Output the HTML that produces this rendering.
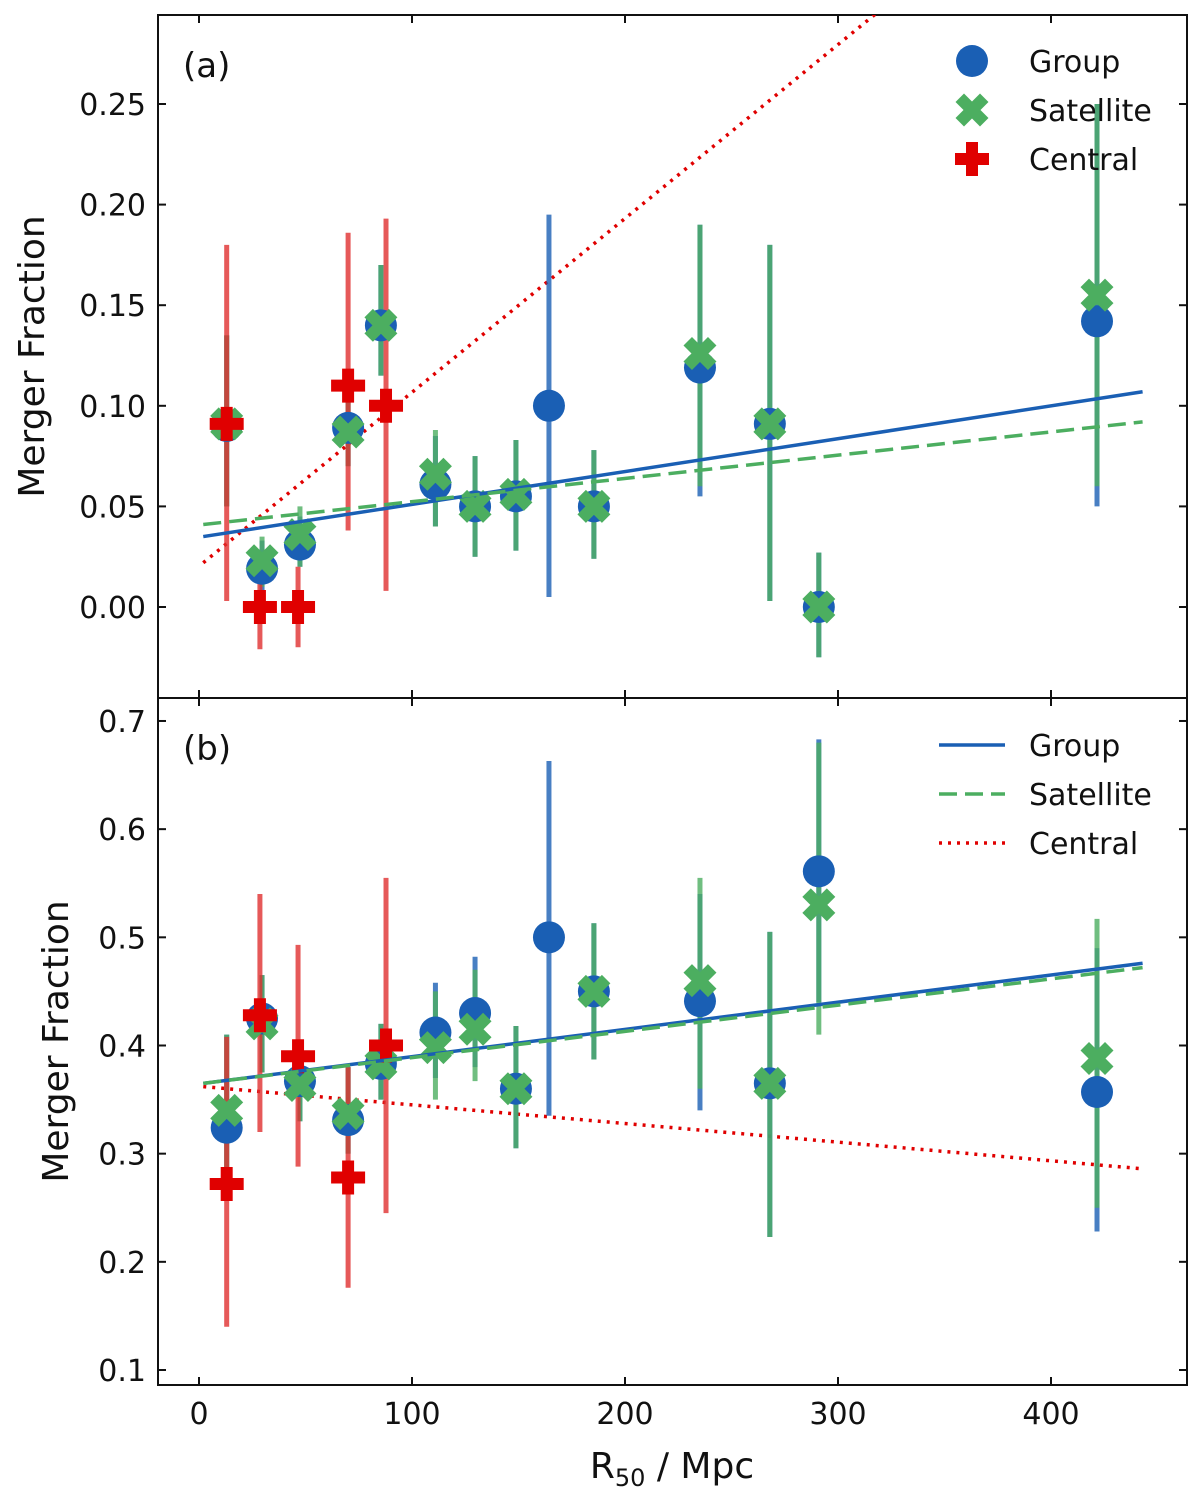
<!DOCTYPE html>
<html><head><meta charset="utf-8"><style>
body{margin:0;background:#fff}
svg{display:block}
text{font-family:"DejaVu Sans","Liberation Sans",sans-serif;fill:#111}
</style></head><body>
<svg id="chart" width="1200" height="1508" viewBox="0 0 1200 1508" xmlns="http://www.w3.org/2000/svg"></svg>
<script>
// ---- data ----
const xGroup = [13,29.6,47.4,70,85.4,111,129.6,148.8,164.3,185.4,235.2,268,291,421.6];
const aGroupY = [0.09,0.019,0.031,0.089,0.14,0.061,0.05,0.055,0.1,0.05,0.119,0.091,0.0,0.142];
const aGroupLo = [0.05,0.008,0.02,0.07,0.115,0.04,0.025,0.028,0.005,0.024,0.055,0.003,-0.025,0.05];
const aGroupHi = [0.135,0.033,0.045,0.105,0.17,0.085,0.075,0.083,0.195,0.078,0.19,0.18,0.027,0.25];
const xSat = [13,29.6,47.4,70,85.4,111,129.6,148.8,185.4,235.2,268,291,421.6];
const aSatY = [0.091,0.023,0.036,0.087,0.14,0.066,0.05,0.056,0.05,0.126,0.091,0.0,0.155];
const aSatLo = [0.05,0.01,0.02,0.07,0.115,0.04,0.025,0.028,0.024,0.06,0.003,-0.025,0.06];
const aSatHi = [0.135,0.035,0.05,0.105,0.17,0.088,0.075,0.083,0.078,0.19,0.18,0.027,0.25];
const xCen = [13,28.6,46.5,70,87.8];
const aCenY = [0.091,0.0,0.0,0.11,0.1];
const aCenLo = [0.003,-0.021,-0.02,0.038,0.008];
const aCenHi = [0.18,0.02,0.02,0.186,0.193];
const bGroupY = [0.324,0.425,0.367,0.331,0.383,0.412,0.43,0.36,0.5,0.45,0.441,0.365,0.561,0.357];
const bGroupLo = [0.27,0.375,0.33,0.3,0.35,0.37,0.38,0.305,0.335,0.387,0.34,0.223,0.44,0.228];
const bGroupHi = [0.41,0.465,0.4,0.38,0.42,0.458,0.482,0.418,0.663,0.513,0.54,0.505,0.683,0.49];
const bSatY = [0.34,0.42,0.363,0.337,0.383,0.398,0.415,0.36,0.45,0.46,0.365,0.53,0.388];
const bSatLo = [0.27,0.375,0.33,0.3,0.35,0.35,0.367,0.305,0.387,0.36,0.223,0.41,0.25];
const bSatHi = [0.41,0.465,0.4,0.38,0.42,0.45,0.47,0.418,0.513,0.555,0.505,0.68,0.517];
const bCenY = [0.272,0.428,0.39,0.278,0.4];
const bCenLo = [0.14,0.32,0.288,0.176,0.245];
const bCenHi = [0.408,0.54,0.493,0.38,0.555];
const fitX = [2,443];
const aFitGroup = [0.035,0.107];
const aFitSat = [0.041,0.092];
const aFitCen = [0.022,0.4031];
const bFitGroup = [0.365,0.476];
const bFitSat = [0.365,0.472];
const bFitCen = [0.362,0.286];
const xTicks = [0,100,200,300,400];
const aYTicks = [0,0.05,0.10,0.15,0.20,0.25];
const bYTicks = [0.1,0.2,0.3,0.4,0.5,0.6,0.7];

const BLUE='#1a5fb4', GREEN='#4cae60', RED='#e00000';
const svg=document.getElementById('chart');
const NS='http://www.w3.org/2000/svg';
function el(tag,attrs,parent){const e=document.createElementNS(NS,tag);for(const k in attrs)e.setAttribute(k,attrs[k]);(parent||svg).appendChild(e);return e;}
const L=158,R=1187;
const xs=v=>199+(v)*2.13;
const panels=[
 {top:15,bot:698,ys:v=>607-v*2012,ticks:aYTicks,fmt:v=>v.toFixed(2),label:'(a)'},
 {top:698,bot:1385,ys:v=>1370-(v-0.1)*1081.7,ticks:bYTicks,fmt:v=>v.toFixed(1),label:'(b)'}
];
const defs=el('defs',{});
panels.forEach((p,i)=>{const c=document.createElementNS(NS,'clipPath');c.setAttribute('id','cp'+i);const r=document.createElementNS(NS,'rect');r.setAttribute('x',L);r.setAttribute('y',p.top);r.setAttribute('width',R-L);r.setAttribute('height',p.bot-p.top);c.appendChild(r);defs.appendChild(c);});

function axes(p,i){
  const g=el('g',{});
  
  
  xTicks.forEach(t=>{const x=xs(t);
    el('line',{x1:x,x2:x,y1:p.bot,y2:p.bot-8,stroke:'#111','stroke-width':2},g);
    el('line',{x1:x,x2:x,y1:p.top,y2:p.top+8,stroke:'#111','stroke-width':2},g);
    if(i===1){const tx=el('text',{x:x,y:1424,'font-size':30,'text-anchor':'middle'},g);tx.textContent=t;
      }
  });
  p.ticks.forEach(t=>{const y=p.ys(t);
    el('line',{x1:L,x2:L+8,y1:y,y2:y,stroke:'#111','stroke-width':2},g);
    el('line',{x1:R,x2:R-8,y1:y,y2:y,stroke:'#111','stroke-width':2},g);
    const tx=el('text',{x:146,y:y+11,'font-size':30,'text-anchor':'end'},g);tx.textContent=p.fmt(t);
    
  });
  el('rect',{x:L,y:p.top,width:R-L,height:p.bot-p.top,fill:'none',stroke:'#111','stroke-width':2},g);
  const lb=el('text',{x:183,y:p.top+62,'font-size':34},g);lb.textContent=p.label;
  
  const yl=el('text',{x:0,y:0,'font-size':36,'text-anchor':'middle',transform:`translate(${i?68:44},${(p.top+p.bot)/2}) rotate(-90)`},g);
  yl.textContent='Merger Fraction';
  
}
function errbars(g,xv,lo,hi,p,col){xv.forEach((x,k)=>{const l=el('line',{x1:xs(x),x2:xs(x),y1:p.ys(lo[k]),y2:p.ys(hi[k]),stroke:col,'stroke-width':5,'stroke-opacity':0.8},g);
  });}
function circle(g,x,y){const c=el('circle',{cx:x,cy:y,r:16,fill:BLUE},g);return c;}
function xmark(g,x,y,name){const c=el('path',{d:`M${x-8},${y-8}L${x+8},${y+8}M${x+8},${y-8}L${x-8},${y+8}`,stroke:GREEN,'stroke-width':12,'stroke-linecap':'square',fill:'none'},g);return c;}
function plus(g,x,y,name){const c=el('path',{d:`M${x-6},${y-17}h12v11h11v12h-11v11h-12v-11h-11v-12h11z`,fill:RED},g);return c;}
function fit(g,p,vals,col,dash,name){const l=el('line',{x1:xs(fitX[0]),x2:xs(fitX[1]),y1:p.ys(vals[0]),y2:p.ys(vals[1]),stroke:col,'stroke-width':3.5},g);
  if(dash)l.setAttribute('stroke-dasharray',dash);}

const sets=[
 {gy:aGroupY,gl:aGroupLo,gh:aGroupHi,sy:aSatY,sl:aSatLo,sh:aSatHi,cy:aCenY,cl:aCenLo,ch:aCenHi,fg:aFitGroup,fs:aFitSat,fc:aFitCen},
 {gy:bGroupY,gl:bGroupLo,gh:bGroupHi,sy:bSatY,sl:bSatLo,sh:bSatHi,cy:bCenY,cl:bCenLo,ch:bCenHi,fg:bFitGroup,fs:bFitSat,fc:bFitCen}
];
panels.forEach((p,i)=>{
  axes(p,i);
  const s=sets[i];
  const g=el('g',{'clip-path':`url(#cp${i})`});
  
  fit(g,p,s.fc,RED,'3 6','central-fit-line');
  errbars(g,xGroup,s.gl,s.gh,p,BLUE);
  errbars(g,xSat,s.sl,s.sh,p,GREEN);
  errbars(g,xCen,s.cl,s.ch,p,'#e03030');
  xGroup.forEach((x,k)=>circle(g,xs(x),p.ys(s.gy[k])));
  xSat.forEach((x,k)=>xmark(g,xs(x),p.ys(s.sy[k])));
  xCen.forEach((x,k)=>plus(g,xs(x),p.ys(s.cy[k])));
  fit(g,p,s.fg,BLUE,null,'group-fit-line');
  fit(g,p,s.fs,GREEN,'18 8','satellite-fit-line');
});
// legends
const lgA=el('g',{});
circle(lgA,972,61);xmark(lgA,972,110,'legend-satellite-marker');plus(lgA,972,159,'legend-central-marker');
[['Group',72],['Satellite',121],['Central',170]].forEach(([t,y])=>{const tx=el('text',{x:1029,y:y,'font-size':30},lgA);tx.textContent=t;});
const lgB=el('g',{});
[[BLUE,null,745,'Group'],[GREEN,'18 8',794,'Satellite'],[RED,'3 6',843,'Central']].forEach(([c,d,y,t])=>{
  const l=el('line',{x1:939,x2:1005,y1:y,y2:y,stroke:c,'stroke-width':3.5},lgB);if(d)l.setAttribute('stroke-dasharray',d);
  
  const tx=el('text',{x:1029,y:y+11,'font-size':30},lgB);tx.textContent=t;});
const xt=el('text',{x:672,y:1478,'font-size':36,'text-anchor':'middle'});
xt.innerHTML='R<tspan font-size="24" dy="8">50</tspan><tspan dy="-8"> / Mpc</tspan>';

</script>
</body></html>
